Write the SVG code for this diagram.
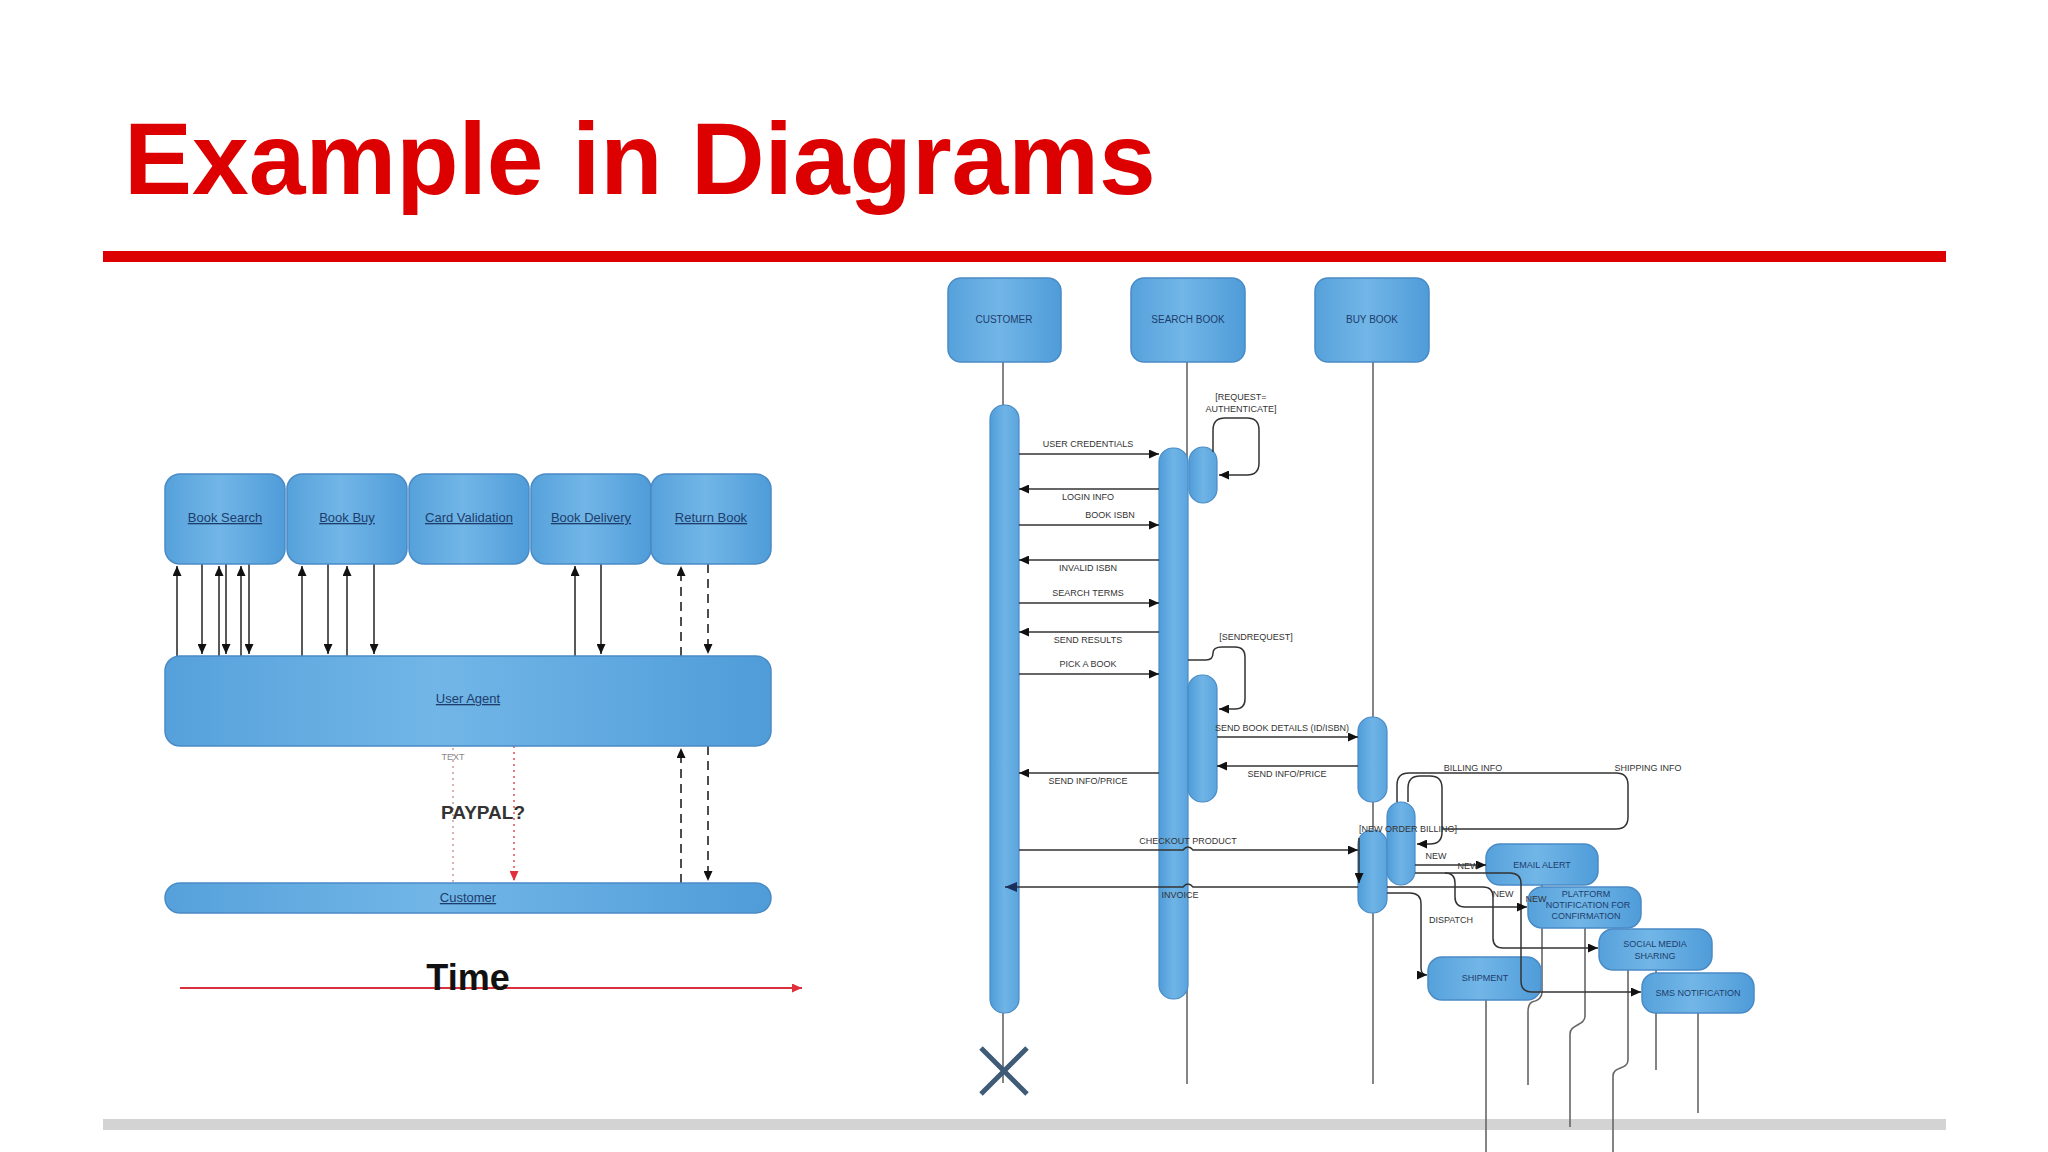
<svg xmlns="http://www.w3.org/2000/svg" width="2048" height="1152" viewBox="0 0 2048 1152">
<defs>
<linearGradient id="bg" x1="0" y1="0" x2="1" y2="0">
<stop offset="0" stop-color="#56a1db"/>
<stop offset="0.45" stop-color="#72b6e7"/>
<stop offset="1" stop-color="#4f9cd9"/>
</linearGradient>
<linearGradient id="bar" x1="0" y1="0" x2="1" y2="0">
<stop offset="0" stop-color="#4f9cd9"/>
<stop offset="0.5" stop-color="#6fb4e6"/>
<stop offset="1" stop-color="#5aa4dd"/>
</linearGradient>
<marker id="ah" markerUnits="userSpaceOnUse" markerWidth="11" markerHeight="9" refX="10" refY="4.5" orient="auto">
<path d="M0,0 L10,4.5 L0,9 z" fill="#111"/>
</marker>
<marker id="ahr" markerUnits="userSpaceOnUse" markerWidth="11" markerHeight="9" refX="10" refY="4.5" orient="auto">
<path d="M0,0 L10,4.5 L0,9 z" fill="#e0303c"/>
</marker>
<marker id="ahn" markerUnits="userSpaceOnUse" markerWidth="13" markerHeight="10" refX="12" refY="5" orient="auto">
<path d="M0,0 L12,5 L0,10 z" fill="#1a2f5a"/>
</marker>
</defs>
<style>
.box{fill:url(#bg);stroke:#4a8bc6;stroke-width:1.5}
.bar{fill:url(#bar);stroke:#4a8bc6;stroke-width:1.2}
.lbl{font-family:"Liberation Sans",Arial,sans-serif;font-size:13px;fill:#1d3d6c;text-anchor:middle;text-decoration:underline}
.hd{font-family:"Liberation Sans",Arial,sans-serif;font-size:10px;fill:#1d3d6c;text-anchor:middle}
.bl{font-family:"Liberation Sans",Arial,sans-serif;font-size:9px;fill:#1d3d6c;text-anchor:middle}
.msg{font-family:"Liberation Sans",Arial,sans-serif;font-size:9px;fill:#333;text-anchor:middle}
.ln{stroke:#222;stroke-width:1.5;fill:none}
.dash{stroke:#222;stroke-width:1.6;fill:none;stroke-dasharray:9 6}
.life{stroke:#666;stroke-width:1.6;fill:none}
.route{stroke:#333;stroke-width:1.5;fill:none}
</style>

<g id="title">
<text x="124" y="194" font-family="Liberation Sans,Arial,sans-serif" font-weight="bold" font-size="102" fill="#dd0000">Example in Diagrams</text>
<rect x="103" y="251" width="1843" height="11" fill="#dd0000"/>
<rect x="103" y="1119" width="1843" height="11" fill="#d3d3d3"/>
</g>

<!-- LEFT DIAGRAM -->
<g id="left-connectors">
<line class="ln" x1="177" y1="656" x2="177" y2="566" marker-end="url(#ah)"/>
<line class="ln" x1="202" y1="564" x2="202" y2="654" marker-end="url(#ah)"/>
<line class="ln" x1="219" y1="656" x2="219" y2="566" marker-end="url(#ah)"/>
<line class="ln" x1="226" y1="564" x2="226" y2="654" marker-end="url(#ah)"/>
<line class="ln" x1="241" y1="656" x2="241" y2="566" marker-end="url(#ah)"/>
<line class="ln" x1="249" y1="564" x2="249" y2="654" marker-end="url(#ah)"/>
<line class="ln" x1="302" y1="656" x2="302" y2="566" marker-end="url(#ah)"/>
<line class="ln" x1="328" y1="564" x2="328" y2="654" marker-end="url(#ah)"/>
<line class="ln" x1="347" y1="656" x2="347" y2="566" marker-end="url(#ah)"/>
<line class="ln" x1="374" y1="564" x2="374" y2="654" marker-end="url(#ah)"/>
<line class="ln" x1="575" y1="656" x2="575" y2="566" marker-end="url(#ah)"/>
<line class="ln" x1="601" y1="564" x2="601" y2="654" marker-end="url(#ah)"/>
<line class="dash" x1="681" y1="656" x2="681" y2="566" marker-end="url(#ah)"/>
<line class="dash" x1="708" y1="564" x2="708" y2="654" marker-end="url(#ah)"/>
<line class="dash" x1="681" y1="883" x2="681" y2="748" marker-end="url(#ah)"/>
<line class="dash" x1="708" y1="746" x2="708" y2="881" marker-end="url(#ah)"/>
<line x1="453" y1="748" x2="453" y2="883" stroke="#c98a8a" stroke-width="1.3" stroke-dasharray="2 4"/>
<line x1="514" y1="746" x2="514" y2="881" stroke="#e0303c" stroke-width="1.3" stroke-dasharray="2 4" marker-end="url(#ahr)"/>
<line x1="180" y1="988" x2="802" y2="988" stroke="#d8303c" stroke-width="1.8" marker-end="url(#ahr)"/>
</g>

<g id="book-search"><rect class="box" x="165" y="474" width="120" height="90" rx="15"/><text class="lbl" x="225" y="522">Book Search</text></g>
<g id="book-buy"><rect class="box" x="287" y="474" width="120" height="90" rx="15"/><text class="lbl" x="347" y="522">Book Buy</text></g>
<g id="card-validation"><rect class="box" x="409" y="474" width="120" height="90" rx="15"/><text class="lbl" x="469" y="522">Card Validation</text></g>
<g id="book-delivery"><rect class="box" x="531" y="474" width="120" height="90" rx="15"/><text class="lbl" x="591" y="522">Book Delivery</text></g>
<g id="return-book"><rect class="box" x="651" y="474" width="120" height="90" rx="15"/><text class="lbl" x="711" y="522">Return Book</text></g>
<g id="user-agent"><rect class="box" x="165" y="656" width="606" height="90" rx="15"/><text class="lbl" x="468" y="703">User Agent</text></g>
<g id="customer-bar"><rect class="box" x="165" y="883" width="606" height="30" rx="15"/><text class="lbl" x="468" y="902">Customer</text></g>
<g id="left-labels">
<text x="453" y="760" font-family="Liberation Sans,Arial,sans-serif" font-size="9" fill="#888" text-anchor="middle">TEXT</text>
<text x="483" y="819" font-family="Liberation Sans,Arial,sans-serif" font-weight="bold" font-size="19" fill="#333" text-anchor="middle">PAYPAL?</text>
<text x="468" y="990" font-family="Liberation Sans,Arial,sans-serif" font-weight="bold" font-size="36" fill="#111" text-anchor="middle">Time</text>
</g>

<!-- RIGHT DIAGRAM -->
<g id="lifelines">
<line class="life" x1="1003" y1="362" x2="1003" y2="1083"/>
<line class="life" x1="1187" y1="362" x2="1187" y2="1084"/>
<line class="life" x1="1373" y1="362" x2="1373" y2="1084"/>
<path class="life" d="M1542,885 L1542,992 Q1542,1000 1532,1002 Q1528,1004 1528,1012 L1528,1085"/>
<path class="life" d="M1585,928 L1585,1016 C1585,1026 1570,1024 1570,1034 L1570,1127"/>
<path class="life" d="M1628,970 L1628,1060 C1628,1070 1613,1066 1613,1076 L1613,1152"/>
<line class="life" x1="1656" y1="970" x2="1656" y2="1070"/>
<line class="life" x1="1486" y1="1000" x2="1486" y2="1152"/>
<line class="life" x1="1698" y1="1013" x2="1698" y2="1113"/>
</g>

<g id="customer-head"><rect class="box" x="948" y="278" width="113" height="84" rx="13"/><text class="hd" x="1004" y="323">CUSTOMER</text></g>
<g id="search-head"><rect class="box" x="1131" y="278" width="114" height="84" rx="13"/><text class="hd" x="1188" y="323">SEARCH BOOK</text></g>
<g id="buy-head"><rect class="box" x="1315" y="278" width="114" height="84" rx="13"/><text class="hd" x="1372" y="323">BUY BOOK</text></g>

<g id="activations">
<rect class="bar" x="990" y="405" width="29" height="608" rx="14"/>
<rect class="bar" x="1159" y="448" width="29" height="551" rx="14"/>
<rect class="bar" x="1189" y="447" width="28" height="56" rx="14"/>
<rect class="bar" x="1188" y="675" width="29" height="127" rx="14"/>
<rect class="bar" x="1358" y="717" width="29" height="85" rx="14"/>
<rect class="bar" x="1358" y="830" width="29" height="83" rx="14"/>
<rect class="bar" x="1387" y="802" width="28" height="83" rx="14"/>
</g>
<g id="end-x">
<line x1="981" y1="1048" x2="1027" y2="1094" stroke="#3f5b75" stroke-width="5"/>
<line x1="1027" y1="1048" x2="981" y2="1094" stroke="#3f5b75" stroke-width="5"/>
</g>

<g id="email-alert"><rect class="box" x="1486" y="844" width="112" height="41" rx="14"/><text class="bl" x="1542" y="868">EMAIL ALERT</text></g>
<g id="platform-notification"><rect class="box" x="1528" y="887" width="113" height="41" rx="14"/>
<text class="bl" x="1586" y="897" font-size="8.5">PLATFORM</text><text class="bl" x="1588" y="908" font-size="8.5">NOTIFICATION FOR</text><text class="bl" x="1586" y="919" font-size="8.5">CONFIRMATION</text></g>
<g id="social-media"><rect class="box" x="1599" y="929" width="113" height="41" rx="14"/><text class="bl" x="1655" y="947">SOCIAL MEDIA</text><text class="bl" x="1655" y="959">SHARING</text></g>
<g id="sms-notification"><rect class="box" x="1642" y="973" width="112" height="40" rx="14"/><text class="bl" x="1698" y="996">SMS NOTIFICATION</text></g>
<g id="shipment"><rect class="box" x="1428" y="957" width="113" height="43" rx="14"/><text class="bl" x="1485" y="981">SHIPMENT</text></g>

<g id="messages">
<line class="route" x1="1019" y1="454" x2="1159" y2="454" marker-end="url(#ah)"/>
<line class="route" x1="1159" y1="489" x2="1019" y2="489" marker-end="url(#ah)"/>
<line class="route" x1="1019" y1="525" x2="1159" y2="525" marker-end="url(#ah)"/>
<line class="route" x1="1159" y1="560" x2="1019" y2="560" marker-end="url(#ah)"/>
<line class="route" x1="1019" y1="603" x2="1159" y2="603" marker-end="url(#ah)"/>
<line class="route" x1="1159" y1="632" x2="1019" y2="632" marker-end="url(#ah)"/>
<line class="route" x1="1019" y1="674" x2="1159" y2="674" marker-end="url(#ah)"/>
<path class="route" d="M1213,452 L1213,430 Q1213,418 1225,418 L1247,418 Q1259,418 1259,430 L1259,463 Q1259,475 1247,475 L1219,475" marker-end="url(#ah)"/>
<path class="route" d="M1188,660 L1206,660 Q1213,660 1213,653 Q1213,647 1222,647 L1235,647 Q1245,647 1245,657 L1245,699 Q1245,709 1235,709 L1219,709" marker-end="url(#ah)"/>
<line class="route" x1="1217" y1="737" x2="1358" y2="737" marker-end="url(#ah)"/>
<line class="route" x1="1358" y1="766" x2="1217" y2="766" marker-end="url(#ah)"/>
<line class="route" x1="1159" y1="773" x2="1019" y2="773" marker-end="url(#ah)"/>
<path class="route" d="M1019,850 L1183,850 Q1188,844 1193,850 L1358,850" marker-end="url(#ah)"/>
<path class="route" d="M1358,887 L1193,887 Q1188,881 1183,887 L1005,887" marker-end="url(#ahn)"/>
<line class="route" x1="1359" y1="838" x2="1359" y2="883" marker-end="url(#ah)"/>
<path class="route" d="M1397,802 L1397,785 Q1397,773 1409,773 L1616,773 Q1628,773 1628,785 L1628,817 Q1628,829 1616,829 L1442,829"/>
<path class="route" d="M1408,802 L1408,788 Q1408,776 1420,776 L1430,776 Q1442,776 1442,788 L1442,832 Q1442,844 1430,844 L1417,844" marker-end="url(#ah)"/>
<line class="route" x1="1415" y1="865" x2="1486" y2="865" marker-end="url(#ah)"/>
<path class="route" d="M1415,873 L1510,873 Q1521,873 1521,884 L1521,981 Q1521,992 1532,992 L1641,992" marker-end="url(#ah)"/>
<path class="route" d="M1445,873 Q1455,873 1455,883 L1455,897 Q1455,907 1465,907 L1527,907" marker-end="url(#ah)"/>
<path class="route" d="M1387,887 L1483,887 Q1493,887 1493,897 L1493,938 Q1493,948 1503,948 L1598,948" marker-end="url(#ah)"/>
<path class="route" d="M1387,893 L1410,893 Q1421,893 1421,904 L1421,968 Q1421,975 1427,975" marker-end="url(#ah)"/>
</g>

<g id="message-labels">
<text class="msg" x="1088" y="447">USER CREDENTIALS</text>
<text class="msg" x="1088" y="500">LOGIN INFO</text>
<text class="msg" x="1110" y="518">BOOK ISBN</text>
<text class="msg" x="1088" y="571">INVALID ISBN</text>
<text class="msg" x="1088" y="596">SEARCH TERMS</text>
<text class="msg" x="1088" y="643">SEND RESULTS</text>
<text class="msg" x="1088" y="667">PICK A BOOK</text>
<text class="msg" x="1241" y="400">[REQUEST=</text>
<text class="msg" x="1241" y="412">AUTHENTICATE]</text>
<text class="msg" x="1256" y="640">[SENDREQUEST]</text>
<text class="msg" x="1282" y="731">SEND BOOK DETAILS (ID/ISBN)</text>
<text class="msg" x="1287" y="777">SEND INFO/PRICE</text>
<text class="msg" x="1088" y="784">SEND INFO/PRICE</text>
<text class="msg" x="1188" y="844">CHECKOUT PRODUCT</text>
<text class="msg" x="1180" y="898">INVOICE</text>
<text class="msg" x="1473" y="771">BILLING INFO</text>
<text class="msg" x="1648" y="771">SHIPPING INFO</text>
<text class="msg" x="1408" y="832">[NEW ORDER BILLING]</text>
<text class="msg" x="1436" y="859">NEW</text>
<text class="msg" x="1468" y="869">NEW</text>
<text class="msg" x="1503" y="897">NEW</text>
<text class="msg" x="1536" y="902" font-size="8">NEW</text>
<text class="msg" x="1451" y="923">DISPATCH</text>
</g>
</svg>
